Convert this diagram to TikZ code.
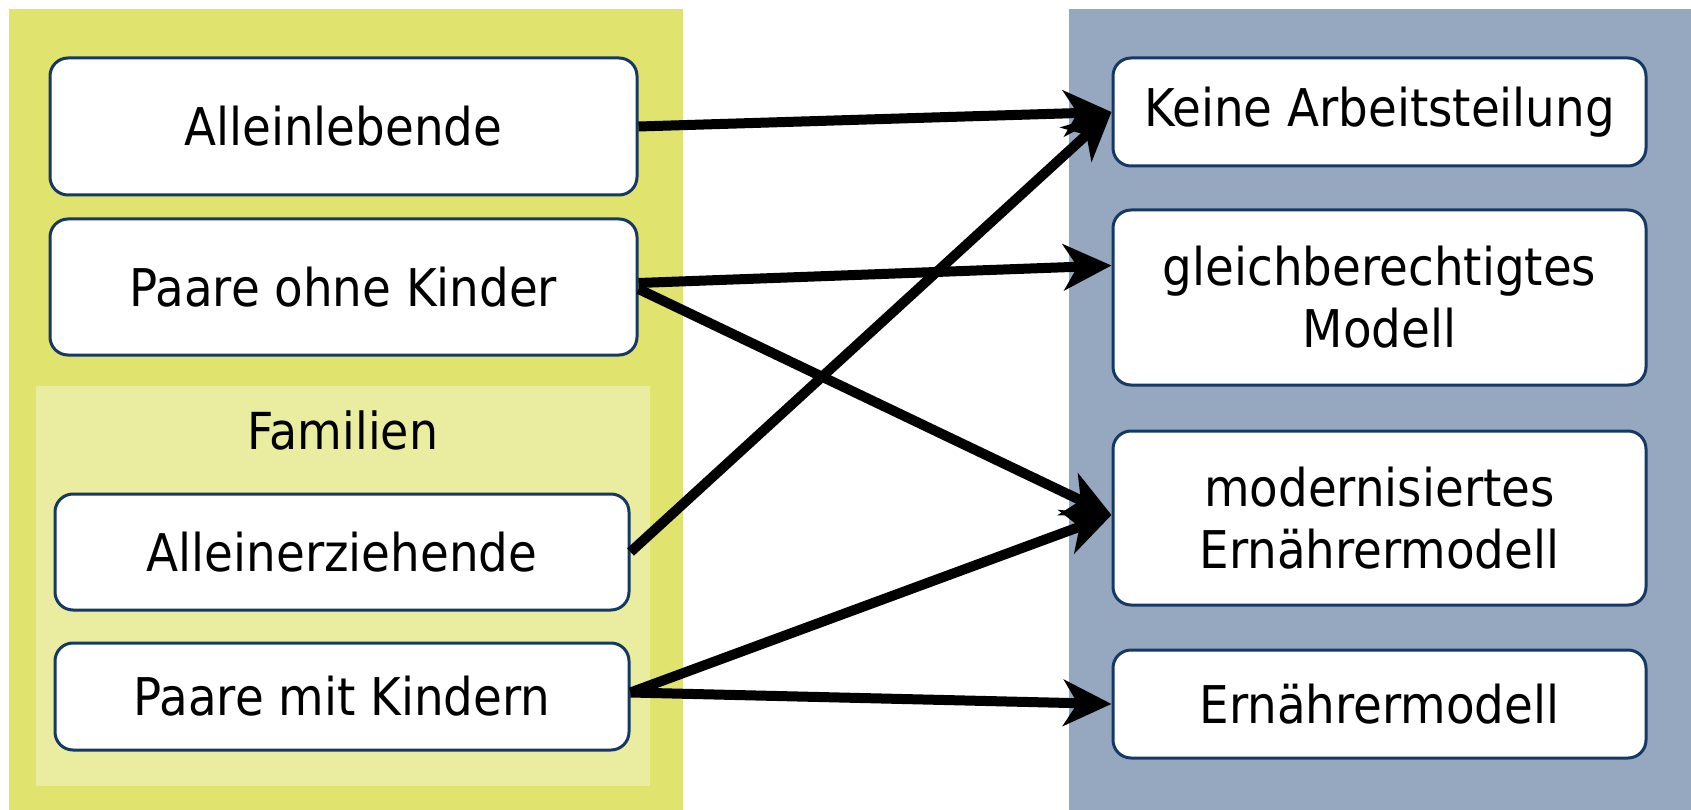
\documentclass[tikz,border=0pt]{standalone}
\usepackage{fontspec}
\setmainfont{DejaVu Sans Condensed}
\usetikzlibrary{arrows.meta}
\definecolor{panelY}{RGB}{224,228,110}
\definecolor{panelL}{RGB}{234,237,160}
\definecolor{panelB}{RGB}{150,168,192}
\definecolor{navy}{RGB}{22,56,100}
\tikzset{
  box/.style={draw=navy, line width=3pt, rounded corners=18pt, fill=white, align=center, inner sep=0pt},
  lbox/.style={box, font=\fontsize{52}{62}\selectfont},
  rbox/.style={box, minimum width=533pt, font=\fontsize{52}{62}\selectfont},
  conn/.style={line width=10pt, -{Stealth[length=48pt,width=46pt,inset=14pt]}}
}
\begin{document}
\begin{tikzpicture}[x=1pt,y=-1pt]
\useasboundingbox (0,0) rectangle (1691,810);
\fill[white] (0,0) rectangle (1691,810);
\fill[panelY] (9,9) rectangle (683,810);
\fill[panelL] (36,386) rectangle (650,786);
\fill[panelB] (1069,9) rectangle (1691,810);
\node[font=\fontsize{51}{60}\selectfont] (fam) at (343,430) {Familien};
\node[lbox, minimum width=587pt, minimum height=137pt] (a1) at (343.5,126.5) {Alleinlebende};
\node[lbox, minimum width=587pt, minimum height=136pt] (a2) at (343.5,287) {Paare ohne Kinder};
\node[lbox, minimum width=574pt, minimum height=116pt] (a3) at (342,552) {Alleinerziehende};
\node[lbox, minimum width=574pt, minimum height=107pt] (a4) at (342,696.5) {Paare mit Kindern};
\node[rbox, minimum height=108pt] (b1) at (1379.5,112) {Keine Arbeitsteilung};
\node[rbox, minimum height=175pt] (b2) at (1379.5,297.5) {gleichberechtigtes\\Modell};
\node[rbox, minimum height=174pt] (b3) at (1379.5,518) {modernisiertes\\Ernährermodell};
\node[rbox, minimum height=108pt] (b4) at (1379.5,704) {Ernährermodell};
\draw[conn] (a1.east) -- (b1.west);
\draw[conn] ([yshift=4pt]a2.east) -- ([yshift=32pt]b2.west);
\draw[conn] ([yshift=-2pt]a2.east) -- ([yshift=3pt]b3.west);
\draw[conn] (a3.east) -- (b1.west);
\draw[conn] ([yshift=4pt]a4.east) -- ([yshift=3pt]b3.west);
\draw[conn] ([yshift=4pt]a4.east) -- (b4.west);
\end{tikzpicture}
\end{document}
